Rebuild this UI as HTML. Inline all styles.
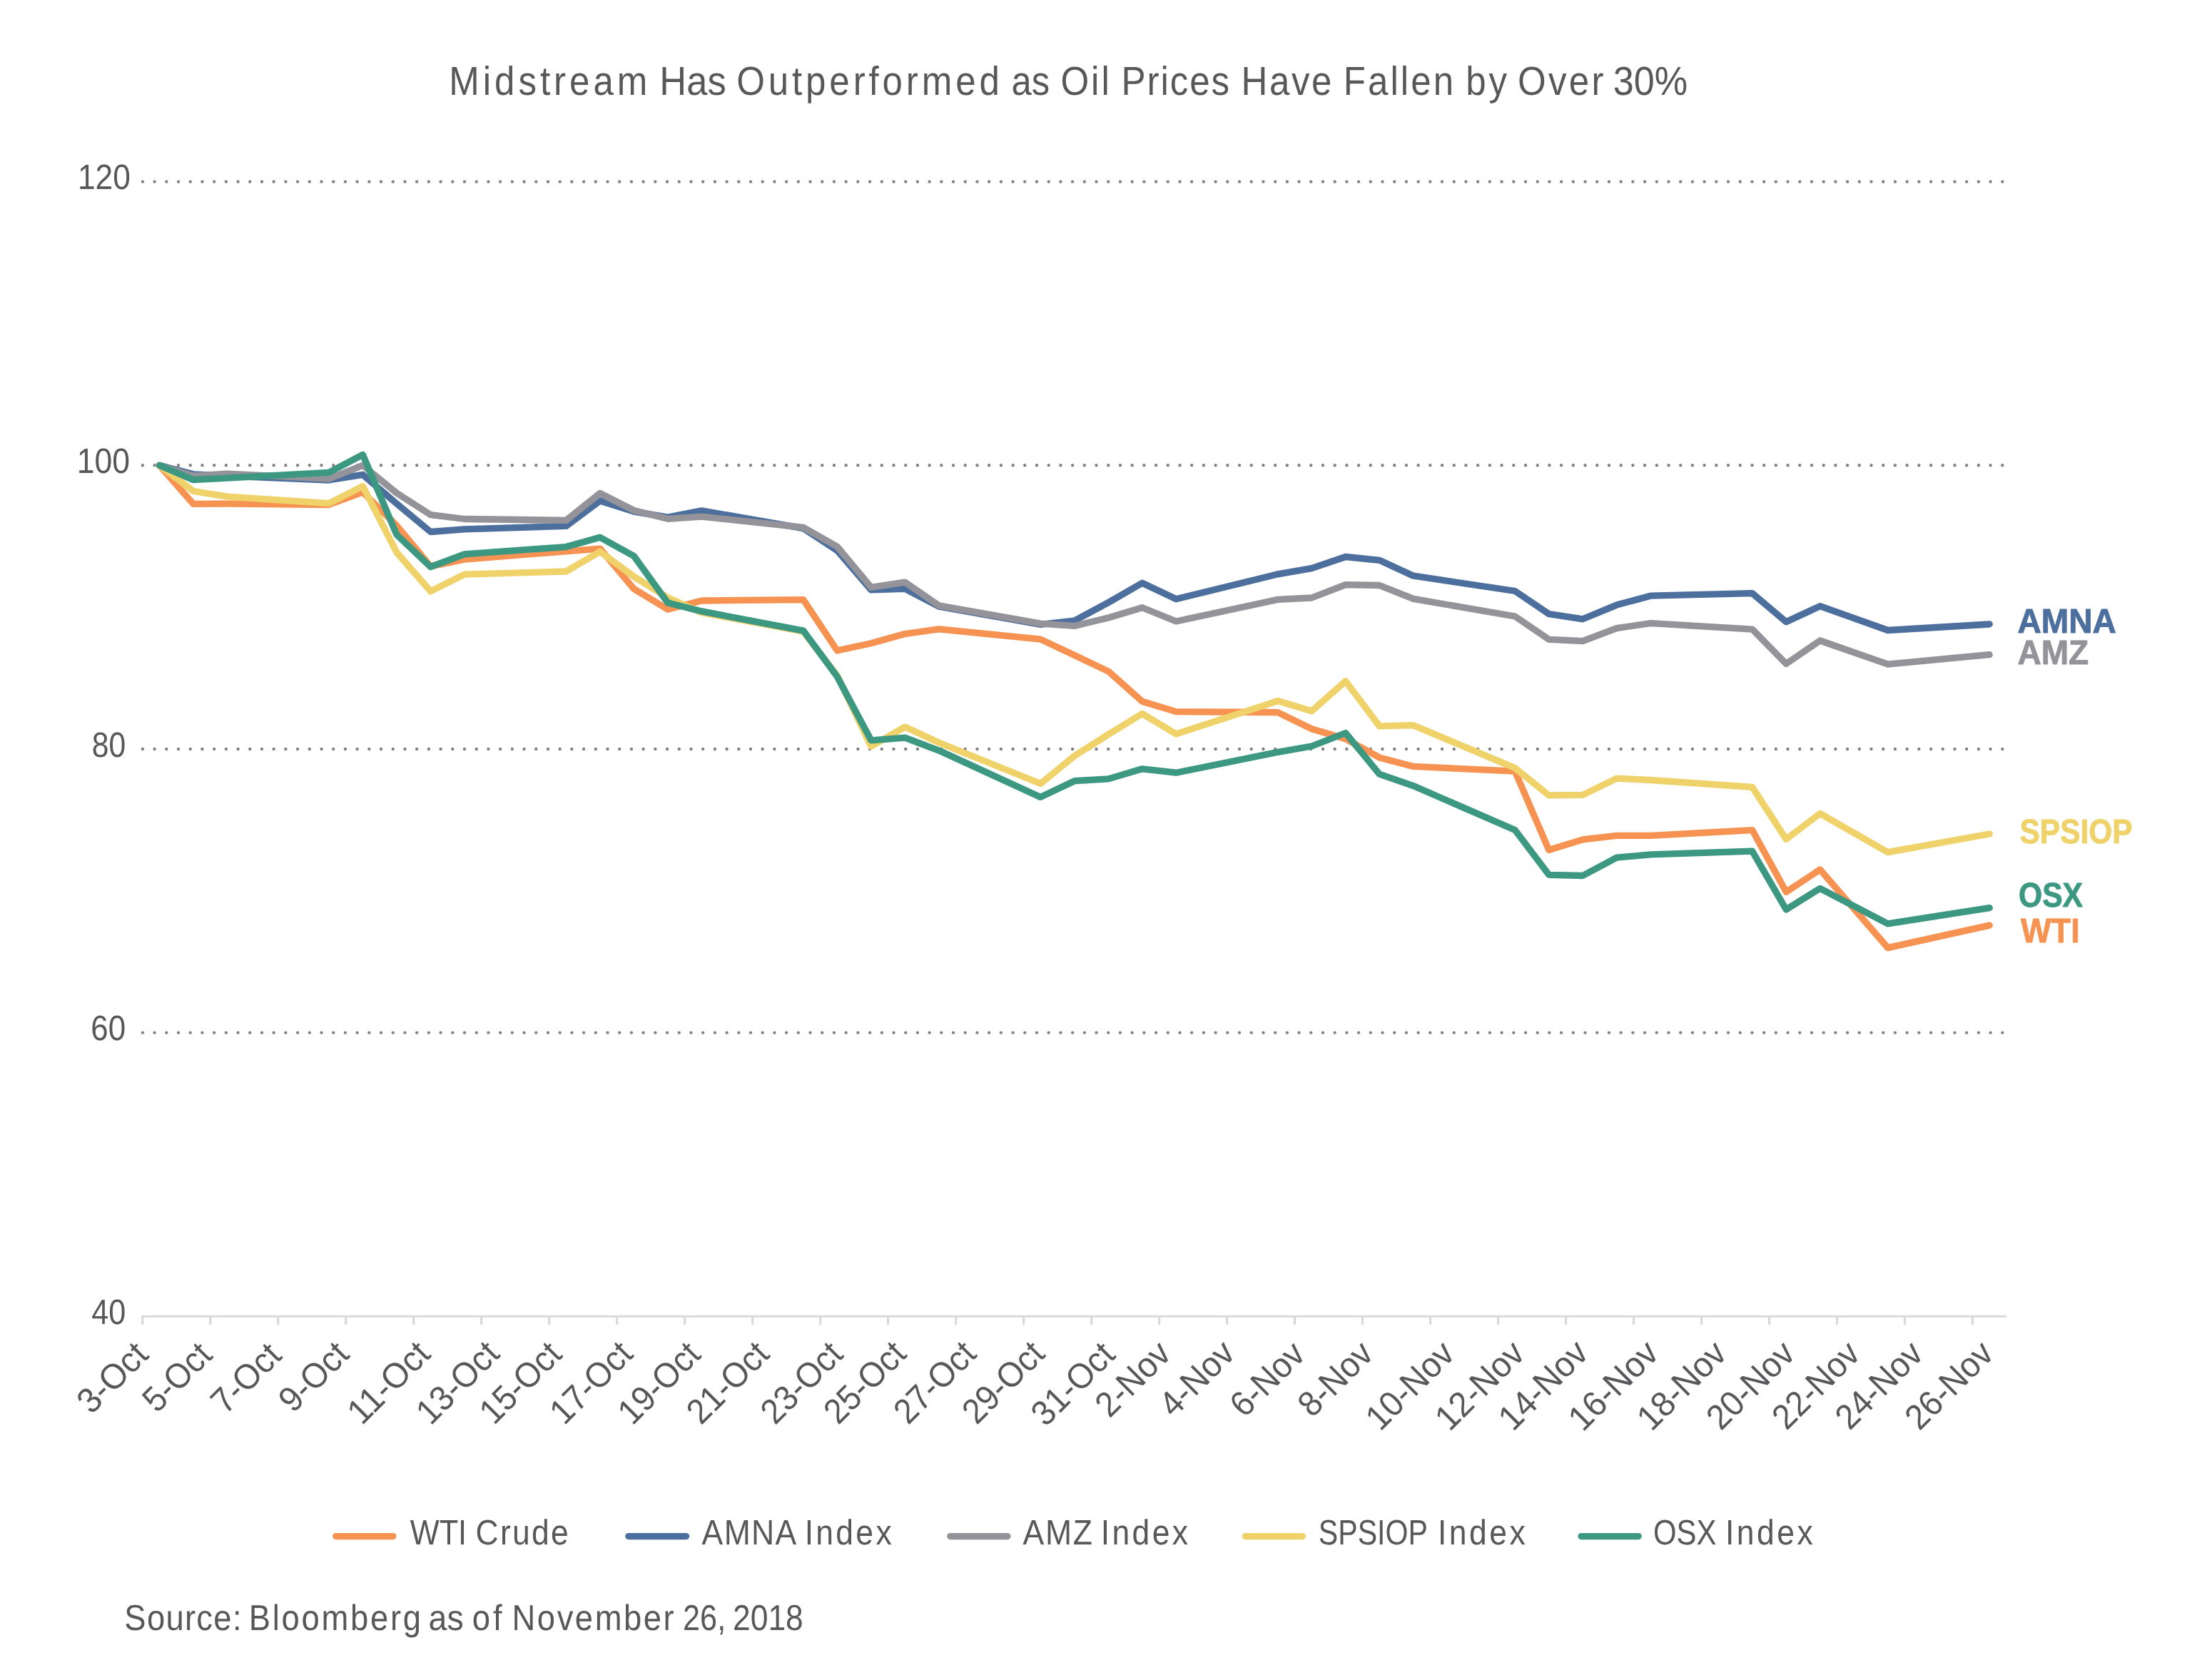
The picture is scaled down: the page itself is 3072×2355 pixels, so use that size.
<!DOCTYPE html>
<html><head><meta charset="utf-8"><title>Midstream Has Outperformed as Oil Prices Have Fallen by Over 30%</title>
<style>html,body{margin:0;padding:0;background:#fff;}svg{display:block;will-change:transform;}text{font-family:"Liberation Sans",sans-serif;text-rendering:geometricPrecision;}</style>
</head><body>
<svg width="3072" height="2355" viewBox="0 0 3072 2355">
<rect width="3072" height="2355" fill="#ffffff"/>
<line x1="199.9" y1="254.65" x2="2806.5" y2="254.65" stroke="#828285" stroke-width="4.4" stroke-linecap="round" stroke-dasharray="0 16.7077"/>
<line x1="199.9" y1="652.30" x2="2806.5" y2="652.30" stroke="#828285" stroke-width="4.4" stroke-linecap="round" stroke-dasharray="0 16.7077"/>
<line x1="199.9" y1="1049.95" x2="2806.5" y2="1049.95" stroke="#828285" stroke-width="4.4" stroke-linecap="round" stroke-dasharray="0 16.7077"/>
<line x1="199.9" y1="1447.60" x2="2806.5" y2="1447.60" stroke="#828285" stroke-width="4.4" stroke-linecap="round" stroke-dasharray="0 16.7077"/>
<line x1="198.1" y1="1845.3" x2="2811.7" y2="1845.3" stroke="#D9D9DB" stroke-width="3.1"/>
<line x1="199.75" y1="1845.3" x2="199.75" y2="1856.9" stroke="#D9D9DB" stroke-width="3.2"/>
<line x1="294.74" y1="1845.3" x2="294.74" y2="1856.9" stroke="#D9D9DB" stroke-width="3.2"/>
<line x1="389.73" y1="1845.3" x2="389.73" y2="1856.9" stroke="#D9D9DB" stroke-width="3.2"/>
<line x1="484.72" y1="1845.3" x2="484.72" y2="1856.9" stroke="#D9D9DB" stroke-width="3.2"/>
<line x1="579.71" y1="1845.3" x2="579.71" y2="1856.9" stroke="#D9D9DB" stroke-width="3.2"/>
<line x1="674.70" y1="1845.3" x2="674.70" y2="1856.9" stroke="#D9D9DB" stroke-width="3.2"/>
<line x1="769.69" y1="1845.3" x2="769.69" y2="1856.9" stroke="#D9D9DB" stroke-width="3.2"/>
<line x1="864.68" y1="1845.3" x2="864.68" y2="1856.9" stroke="#D9D9DB" stroke-width="3.2"/>
<line x1="959.67" y1="1845.3" x2="959.67" y2="1856.9" stroke="#D9D9DB" stroke-width="3.2"/>
<line x1="1054.66" y1="1845.3" x2="1054.66" y2="1856.9" stroke="#D9D9DB" stroke-width="3.2"/>
<line x1="1149.65" y1="1845.3" x2="1149.65" y2="1856.9" stroke="#D9D9DB" stroke-width="3.2"/>
<line x1="1244.64" y1="1845.3" x2="1244.64" y2="1856.9" stroke="#D9D9DB" stroke-width="3.2"/>
<line x1="1339.63" y1="1845.3" x2="1339.63" y2="1856.9" stroke="#D9D9DB" stroke-width="3.2"/>
<line x1="1434.62" y1="1845.3" x2="1434.62" y2="1856.9" stroke="#D9D9DB" stroke-width="3.2"/>
<line x1="1529.61" y1="1845.3" x2="1529.61" y2="1856.9" stroke="#D9D9DB" stroke-width="3.2"/>
<line x1="1624.60" y1="1845.3" x2="1624.60" y2="1856.9" stroke="#D9D9DB" stroke-width="3.2"/>
<line x1="1719.59" y1="1845.3" x2="1719.59" y2="1856.9" stroke="#D9D9DB" stroke-width="3.2"/>
<line x1="1814.58" y1="1845.3" x2="1814.58" y2="1856.9" stroke="#D9D9DB" stroke-width="3.2"/>
<line x1="1909.57" y1="1845.3" x2="1909.57" y2="1856.9" stroke="#D9D9DB" stroke-width="3.2"/>
<line x1="2004.56" y1="1845.3" x2="2004.56" y2="1856.9" stroke="#D9D9DB" stroke-width="3.2"/>
<line x1="2099.55" y1="1845.3" x2="2099.55" y2="1856.9" stroke="#D9D9DB" stroke-width="3.2"/>
<line x1="2194.54" y1="1845.3" x2="2194.54" y2="1856.9" stroke="#D9D9DB" stroke-width="3.2"/>
<line x1="2289.53" y1="1845.3" x2="2289.53" y2="1856.9" stroke="#D9D9DB" stroke-width="3.2"/>
<line x1="2384.52" y1="1845.3" x2="2384.52" y2="1856.9" stroke="#D9D9DB" stroke-width="3.2"/>
<line x1="2479.51" y1="1845.3" x2="2479.51" y2="1856.9" stroke="#D9D9DB" stroke-width="3.2"/>
<line x1="2574.50" y1="1845.3" x2="2574.50" y2="1856.9" stroke="#D9D9DB" stroke-width="3.2"/>
<line x1="2669.49" y1="1845.3" x2="2669.49" y2="1856.9" stroke="#D9D9DB" stroke-width="3.2"/>
<line x1="2764.48" y1="1845.3" x2="2764.48" y2="1856.9" stroke="#D9D9DB" stroke-width="3.2"/>
<text transform="translate(156.7,1930.6) rotate(-45)" x="-58.2" y="17.5" font-size="49.4" fill="#58585B" textLength="116.5" lengthAdjust="spacingAndGlyphs">3-Oct</text>
<text transform="translate(247.5,1929.7) rotate(-45)" x="-56.3" y="17.5" font-size="49.4" fill="#58585B" textLength="112.6" lengthAdjust="spacingAndGlyphs">5-Oct</text>
<text transform="translate(344.0,1931.1) rotate(-45)" x="-57.6" y="17.5" font-size="49.4" fill="#58585B" textLength="115.2" lengthAdjust="spacingAndGlyphs">7-Oct</text>
<text transform="translate(439.0,1929.2) rotate(-45)" x="-57.3" y="17.5" font-size="49.4" fill="#58585B" textLength="114.5" lengthAdjust="spacingAndGlyphs">9-Oct</text>
<text transform="translate(543.9,1937.5) rotate(-45)" x="-69.6" y="17.5" font-size="49.4" fill="#58585B" textLength="139.3" lengthAdjust="spacingAndGlyphs">11-Oct</text>
<text transform="translate(640.6,1937.5) rotate(-45)" x="-70.0" y="17.5" font-size="49.4" fill="#58585B" textLength="139.9" lengthAdjust="spacingAndGlyphs">13-Oct</text>
<text transform="translate(728.7,1937.5) rotate(-45)" x="-69.0" y="17.5" font-size="49.4" fill="#58585B" textLength="138.0" lengthAdjust="spacingAndGlyphs">15-Oct</text>
<text transform="translate(827.6,1937.5) rotate(-45)" x="-69.6" y="17.5" font-size="49.4" fill="#58585B" textLength="139.3" lengthAdjust="spacingAndGlyphs">17-Oct</text>
<text transform="translate(923.0,1938.0) rotate(-45)" x="-69.3" y="17.5" font-size="49.4" fill="#58585B" textLength="138.6" lengthAdjust="spacingAndGlyphs">19-Oct</text>
<text transform="translate(1019.2,1937.5) rotate(-45)" x="-69.3" y="17.5" font-size="49.4" fill="#58585B" textLength="138.6" lengthAdjust="spacingAndGlyphs">21-Oct</text>
<text transform="translate(1122.7,1937.5) rotate(-45)" x="-69.0" y="17.5" font-size="49.4" fill="#58585B" textLength="138.0" lengthAdjust="spacingAndGlyphs">23-Oct</text>
<text transform="translate(1211.3,1937.1) rotate(-45)" x="-69.3" y="17.5" font-size="49.4" fill="#58585B" textLength="138.6" lengthAdjust="spacingAndGlyphs">25-Oct</text>
<text transform="translate(1309.3,1937.1) rotate(-45)" x="-69.3" y="17.5" font-size="49.4" fill="#58585B" textLength="138.6" lengthAdjust="spacingAndGlyphs">27-Oct</text>
<text transform="translate(1405.3,1937.1) rotate(-45)" x="-69.3" y="17.5" font-size="49.4" fill="#58585B" textLength="138.6" lengthAdjust="spacingAndGlyphs">29-Oct</text>
<text transform="translate(1502.9,1939.3) rotate(-45)" x="-70.6" y="17.5" font-size="49.4" fill="#58585B" textLength="141.2" lengthAdjust="spacingAndGlyphs">31-Oct</text>
<text transform="translate(1586.9,1932.3) rotate(-45)" x="-62.7" y="17.5" font-size="49.4" fill="#58585B" textLength="125.4" lengthAdjust="spacingAndGlyphs">2-Nov</text>
<text transform="translate(1676.6,1931.7) rotate(-45)" x="-62.7" y="17.5" font-size="49.4" fill="#58585B" textLength="125.4" lengthAdjust="spacingAndGlyphs">4-Nov</text>
<text transform="translate(1775.4,1932.5) rotate(-45)" x="-62.0" y="17.5" font-size="49.4" fill="#58585B" textLength="124.1" lengthAdjust="spacingAndGlyphs">6-Nov</text>
<text transform="translate(1870.8,1932.1) rotate(-45)" x="-62.4" y="17.5" font-size="49.4" fill="#58585B" textLength="124.7" lengthAdjust="spacingAndGlyphs">8-Nov</text>
<text transform="translate(1975.3,1941.5) rotate(-45)" x="-75.7" y="17.5" font-size="49.4" fill="#58585B" textLength="151.4" lengthAdjust="spacingAndGlyphs">10-Nov</text>
<text transform="translate(2073.2,1941.5) rotate(-45)" x="-76.3" y="17.5" font-size="49.4" fill="#58585B" textLength="152.6" lengthAdjust="spacingAndGlyphs">12-Nov</text>
<text transform="translate(2162.0,1941.1) rotate(-45)" x="-76.6" y="17.5" font-size="49.4" fill="#58585B" textLength="153.3" lengthAdjust="spacingAndGlyphs">14-Nov</text>
<text transform="translate(2260.4,1941.5) rotate(-45)" x="-77.0" y="17.5" font-size="49.4" fill="#58585B" textLength="153.9" lengthAdjust="spacingAndGlyphs">16-Nov</text>
<text transform="translate(2356.2,1941.5) rotate(-45)" x="-76.3" y="17.5" font-size="49.4" fill="#58585B" textLength="152.6" lengthAdjust="spacingAndGlyphs">18-Nov</text>
<text transform="translate(2452.6,1941.1) rotate(-45)" x="-75.4" y="17.5" font-size="49.4" fill="#58585B" textLength="150.7" lengthAdjust="spacingAndGlyphs">20-Nov</text>
<text transform="translate(2544.1,1941.1) rotate(-45)" x="-74.7" y="17.5" font-size="49.4" fill="#58585B" textLength="149.5" lengthAdjust="spacingAndGlyphs">22-Nov</text>
<text transform="translate(2632.7,1941.1) rotate(-45)" x="-74.7" y="17.5" font-size="49.4" fill="#58585B" textLength="149.5" lengthAdjust="spacingAndGlyphs">24-Nov</text>
<text transform="translate(2730.9,1941.1) rotate(-45)" x="-75.4" y="17.5" font-size="49.4" fill="#58585B" textLength="150.7" lengthAdjust="spacingAndGlyphs">26-Nov</text>
<polyline points="223.4,652.3 270.9,706.4 318.4,706.2 460.9,707.5 508.4,690.0 555.9,736.6 603.4,793.9 650.9,784.2 793.4,772.8 840.9,769.1 888.4,825.6 935.9,854.2 983.3,842.0 1125.8,840.7 1173.3,912.0 1220.8,901.8 1268.3,888.6 1315.8,881.8 1458.3,896.1 1505.8,918.5 1553.3,941.1 1600.8,983.3 1648.3,997.6 1790.8,998.6 1838.3,1021.8 1885.8,1035.8 1933.2,1061.9 1980.7,1074.4 2123.2,1081.1 2170.7,1191.5 2218.2,1176.9 2265.7,1171.4 2313.2,1171.4 2455.7,1163.6 2503.2,1250.3 2550.7,1219.0 2645.7,1328.6 2788.2,1297.1" fill="none" stroke="#F79352" stroke-width="9.3" stroke-linejoin="round" stroke-linecap="round"/>
<polyline points="223.4,652.3 270.9,664.8 318.4,667.2 460.9,673.0 508.4,665.4 555.9,706.0 603.4,745.5 650.9,741.8 793.4,737.4 840.9,702.0 888.4,717.1 935.9,725.1 983.3,715.9 1125.8,740.6 1173.3,771.8 1220.8,826.9 1268.3,825.3 1315.8,850.1 1458.3,875.4 1505.8,870.2 1553.3,844.6 1600.8,817.3 1648.3,839.8 1790.8,804.8 1838.3,796.6 1885.8,780.5 1933.2,785.3 1980.7,807.2 2123.2,828.5 2170.7,860.7 2218.2,867.8 2265.7,848.1 2313.2,835.2 2455.7,831.6 2503.2,871.8 2550.7,849.7 2645.7,883.5 2788.2,875.0" fill="none" stroke="#4C6F9E" stroke-width="9.3" stroke-linejoin="round" stroke-linecap="round"/>
<polyline points="223.4,652.3 270.9,667.2 318.4,664.2 460.9,671.2 508.4,652.3 555.9,691.1 603.4,721.7 650.9,727.5 793.4,729.4 840.9,691.5 888.4,715.5 935.9,727.3 983.3,724.1 1125.8,739.4 1173.3,766.2 1220.8,823.3 1268.3,816.1 1315.8,848.9 1458.3,874.2 1505.8,877.4 1553.3,866.0 1600.8,851.7 1648.3,871.0 1790.8,840.4 1838.3,838.0 1885.8,819.7 1933.2,820.5 1980.7,839.4 2123.2,864.0 2170.7,896.3 2218.2,898.6 2265.7,880.7 2313.2,873.6 2455.7,882.1 2503.2,930.5 2550.7,898.0 2645.7,931.1 2788.2,917.7" fill="none" stroke="#939399" stroke-width="9.3" stroke-linejoin="round" stroke-linecap="round"/>
<polyline points="223.4,652.3 270.9,688.5 318.4,696.2 460.9,705.6 508.4,681.7 555.9,774.4 603.4,828.9 650.9,805.2 793.4,801.0 840.9,773.2 888.4,808.2 935.9,837.8 983.3,858.7 1125.8,885.3 1173.3,947.0 1220.8,1046.2 1268.3,1018.9 1315.8,1041.0 1458.3,1098.5 1505.8,1059.7 1553.3,1029.5 1600.8,1000.4 1648.3,1028.9 1790.8,982.5 1838.3,996.7 1885.8,954.7 1933.2,1017.9 1980.7,1016.7 2123.2,1076.6 2170.7,1114.8 2218.2,1114.4 2265.7,1091.1 2313.2,1093.5 2455.7,1103.4 2503.2,1176.4 2550.7,1140.4 2645.7,1194.7 2788.2,1169.0" fill="none" stroke="#F0D26A" stroke-width="9.3" stroke-linejoin="round" stroke-linecap="round"/>
<polyline points="223.4,652.3 270.9,672.6 318.4,670.2 460.9,662.4 508.4,637.4 555.9,749.5 603.4,794.7 650.9,776.8 793.4,766.6 840.9,753.3 888.4,779.5 935.9,845.0 983.3,856.9 1125.8,884.1 1173.3,948.5 1220.8,1037.8 1268.3,1034.2 1315.8,1052.1 1458.3,1117.4 1505.8,1094.7 1553.3,1091.9 1600.8,1077.8 1648.3,1083.2 1790.8,1054.3 1838.3,1046.0 1885.8,1027.5 1933.2,1085.1 1980.7,1101.6 2123.2,1163.5 2170.7,1226.3 2218.2,1227.5 2265.7,1202.2 2313.2,1197.9 2455.7,1193.1 2503.2,1275.0 2550.7,1245.4 2645.7,1294.9 2788.2,1272.6" fill="none" stroke="#3D9882" stroke-width="9.3" stroke-linejoin="round" stroke-linecap="round"/>
<line x1="470.7" y1="2153.6" x2="550.8" y2="2153.6" stroke="#F79352" stroke-width="9.2" stroke-linecap="round"/>
<line x1="880.8" y1="2153.6" x2="961.6" y2="2153.6" stroke="#4C6F9E" stroke-width="9.2" stroke-linecap="round"/>
<line x1="1331.7" y1="2153.6" x2="1412.0" y2="2153.6" stroke="#939399" stroke-width="9.2" stroke-linecap="round"/>
<line x1="1745.3" y1="2153.6" x2="1825.5" y2="2153.6" stroke="#F0D26A" stroke-width="9.2" stroke-linecap="round"/>
<line x1="2216.0" y1="2153.6" x2="2296.2" y2="2153.6" stroke="#3D9882" stroke-width="9.2" stroke-linecap="round"/>
<text transform="translate(629.35,133.0) scale(0.9,1)" font-size="56.7" fill="#58585B" textLength="308.77" lengthAdjust="spacing">Midstream</text>
<text x="924.34" y="133.0" font-size="56.7" fill="#58585B" textLength="93.30" lengthAdjust="spacingAndGlyphs">Has</text>
<text transform="translate(1032.19,133.0) scale(0.9,1)" font-size="56.7" fill="#58585B" textLength="409.59" lengthAdjust="spacing">Outperformed</text>
<text x="1417.51" y="133.0" font-size="56.7" fill="#58585B" textLength="53.55" lengthAdjust="spacingAndGlyphs">as</text>
<text transform="translate(1486.41,133.0) scale(0.9,1)" font-size="56.7" fill="#58585B" textLength="75.97" lengthAdjust="spacing">Oil</text>
<text transform="translate(1571.52,133.0) scale(0.9,1)" font-size="56.7" fill="#58585B" textLength="168.33" lengthAdjust="spacing">Prices</text>
<text transform="translate(1739.51,133.0) scale(0.9,1)" font-size="56.7" fill="#58585B" textLength="141.07" lengthAdjust="spacing">Have</text>
<text transform="translate(1882.70,133.0) scale(0.9,1)" font-size="56.7" fill="#58585B" textLength="171.50" lengthAdjust="spacing">Fallen</text>
<text transform="translate(2054.21,133.0) scale(0.9,1)" font-size="56.7" fill="#58585B" textLength="64.13" lengthAdjust="spacing">by</text>
<text transform="translate(2127.02,133.0) scale(0.9,1)" font-size="56.7" fill="#58585B" textLength="133.77" lengthAdjust="spacing">Over</text>
<text x="2260.77" y="133.0" font-size="56.7" fill="#58585B" textLength="104.28" lengthAdjust="spacingAndGlyphs">30%</text>
<text x="108.97" y="265.0" font-size="49.4" fill="#58585B" textLength="73.92" lengthAdjust="spacingAndGlyphs">120</text>
<text x="107.75" y="663.0" font-size="49.4" fill="#58585B" textLength="74.25" lengthAdjust="spacingAndGlyphs">100</text>
<text x="128.66" y="1061.0" font-size="49.4" fill="#58585B" textLength="47.49" lengthAdjust="spacingAndGlyphs">80</text>
<text x="127.28" y="1458.0" font-size="49.4" fill="#58585B" textLength="48.86" lengthAdjust="spacingAndGlyphs">60</text>
<text x="128.14" y="1856.0" font-size="49.4" fill="#58585B" textLength="48.00" lengthAdjust="spacingAndGlyphs">40</text>
<text x="574.72" y="2165.0" font-size="49.4" fill="#58585B" textLength="79.45" lengthAdjust="spacingAndGlyphs">WTI</text>
<text transform="translate(666.61,2165.0) scale(0.9,1)" font-size="49.4" fill="#58585B" textLength="144.66" lengthAdjust="spacing">Crude</text>
<text transform="translate(983.59,2165.0) scale(0.9,1)" font-size="49.4" fill="#58585B" textLength="147.36" lengthAdjust="spacing">AMNA</text>
<text transform="translate(1127.64,2165.0) scale(0.9,1)" font-size="49.4" fill="#58585B" textLength="135.54" lengthAdjust="spacing">Index</text>
<text transform="translate(1433.62,2165.0) scale(0.9,1)" font-size="49.4" fill="#58585B" textLength="107.99" lengthAdjust="spacing">AMZ</text>
<text transform="translate(1542.73,2165.0) scale(0.9,1)" font-size="49.4" fill="#58585B" textLength="135.92" lengthAdjust="spacing">Index</text>
<text x="1847.76" y="2165.0" font-size="49.4" fill="#58585B" textLength="153.25" lengthAdjust="spacingAndGlyphs">SPSIOP</text>
<text transform="translate(2014.94,2165.0) scale(0.9,1)" font-size="49.4" fill="#58585B" textLength="136.54" lengthAdjust="spacing">Index</text>
<text x="2316.99" y="2165.0" font-size="49.4" fill="#58585B" textLength="88.46" lengthAdjust="spacingAndGlyphs">OSX</text>
<text transform="translate(2417.94,2165.0) scale(0.9,1)" font-size="49.4" fill="#58585B" textLength="136.54" lengthAdjust="spacing">Index</text>
<text transform="translate(174.34,2285.0) scale(0.9,1)" font-size="50.4" fill="#58585B" textLength="182.40" lengthAdjust="spacing">Source:</text>
<text transform="translate(348.78,2285.0) scale(0.9,1)" font-size="50.4" fill="#58585B" textLength="268.04" lengthAdjust="spacing">Bloomberg</text>
<text x="600.62" y="2285.0" font-size="50.4" fill="#58585B" textLength="49.05" lengthAdjust="spacingAndGlyphs">as</text>
<text transform="translate(661.73,2285.0) scale(0.9,1)" font-size="50.4" fill="#58585B" textLength="46.47" lengthAdjust="spacing">of</text>
<text transform="translate(717.59,2285.0) scale(0.9,1)" font-size="50.4" fill="#58585B" textLength="252.25" lengthAdjust="spacing">November</text>
<text x="957.09" y="2285.0" font-size="50.4" fill="#58585B" textLength="60.06" lengthAdjust="spacingAndGlyphs">26,</text>
<text x="1027.01" y="2285.0" font-size="50.4" fill="#58585B" textLength="98.84" lengthAdjust="spacingAndGlyphs">2018</text>
<text x="2827.40" y="887.0" font-size="48" font-weight="bold" stroke="#4C6F9E" stroke-width="0.9" stroke-linejoin="round" fill="#4C6F9E" textLength="138.40" lengthAdjust="spacingAndGlyphs">AMNA</text>
<text x="2827.41" y="931.0" font-size="48" font-weight="bold" stroke="#939399" stroke-width="0.9" stroke-linejoin="round" fill="#939399" textLength="99.83" lengthAdjust="spacingAndGlyphs">AMZ</text>
<text x="2830.57" y="1182.0" font-size="48" font-weight="bold" stroke="#F0D26A" stroke-width="0.9" stroke-linejoin="round" fill="#F0D26A" textLength="158.02" lengthAdjust="spacingAndGlyphs">SPSIOP</text>
<text x="2829.03" y="1271.0" font-size="48" font-weight="bold" stroke="#3D9882" stroke-width="0.9" stroke-linejoin="round" fill="#3D9882" textLength="90.02" lengthAdjust="spacingAndGlyphs">OSX</text>
<text x="2831.93" y="1321.0" font-size="48" font-weight="bold" stroke="#F79352" stroke-width="0.9" stroke-linejoin="round" fill="#F79352" textLength="82.87" lengthAdjust="spacingAndGlyphs">WTI</text>
</svg>
</body></html>
